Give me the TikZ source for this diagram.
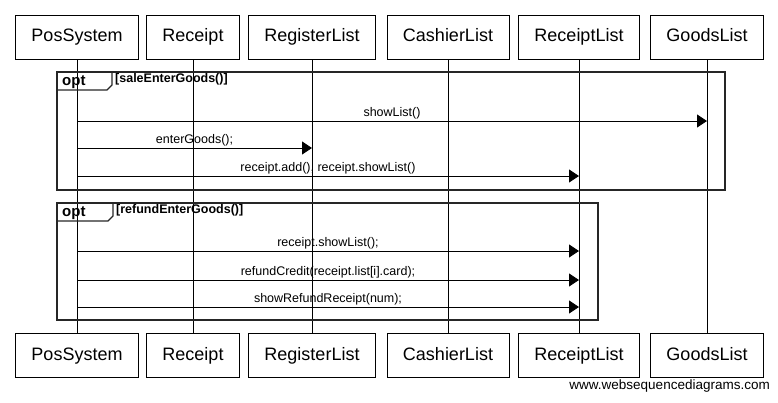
\documentclass[tikz,border=0pt]{standalone}
\usepackage{fontspec}
\setmainfont{Liberation Sans}
\usetikzlibrary{arrows.meta}
\usetikzlibrary{positioning}

\begin{document}
\begin{tikzpicture}[x=1pt,y=1pt,
  actor/.style={draw,line width=0.8pt,minimum height=44pt,text height=13pt,text depth=4pt,inner xsep=16pt,font=\fontsize{18}{20}\selectfont},
  lifeline/.style={line width=0.8pt},
  msg/.style={line width=0.8pt,-{Triangle[length=10pt,width=13pt]}},
  msglabel/.style={font=\fontsize{12.5}{13}\selectfont,inner sep=1.5pt},
  frame/.style={line width=1.6pt,black!85},
  optlabel/.style={font=\bfseries\fontsize{15}{16}\selectfont,inner sep=0pt},
  guard/.style={font=\bfseries\fontsize{12.5}{13}\selectfont,inner sep=0pt}]
\useasboundingbox (0,0) rectangle (778,-402);

% participants, top and bottom
\foreach \name/\x in {PosSystem/77,Receipt/193,RegisterList/312,CashierList/448,ReceiptList/579,GoodsList/707}
{
  \node[actor] (\name) at (\x,-37) {\name};
  \node[actor] (\name-b) at (\x,-355.5) {\name};
  \draw[lifeline] (\name.south) -- (\name-b.north);
}

% first opt frame
\draw[frame] (57,-72) rectangle (725,-190);
\draw[frame,line width=1.2pt] (57,-90) -- (107,-90) -- (112,-85) -- (112,-72);
\node[optlabel,anchor=west] (opt1) at (62,-82) {opt};
\node[guard,anchor=north west] (guard1) at (115,-73.5) {[saleEnterGoods()]};

\draw[msg] (PosSystem |- 0,-121) -- node[above,msglabel] {showList()} (GoodsList |- 0,-121);
\draw[msg] (PosSystem |- 0,-148) -- node[above,msglabel] {enterGoods();} (RegisterList |- 0,-148);
\draw[msg] (PosSystem |- 0,-176) -- node[above,msglabel] {receipt.add(), receipt.showList()} (ReceiptList |- 0,-176);

% second opt frame
\draw[frame] (57,-203) rectangle (598,-320);
\draw[frame,line width=1.2pt] (57,-221) -- (108,-221) -- (113,-216) -- (113,-203);
\node[optlabel,anchor=west] (opt2) at (62,-213) {opt};
\node[guard,anchor=north west] (guard2) at (116,-204.5) {[refundEnterGoods()]};

\draw[msg] (PosSystem |- 0,-251) -- node[above,msglabel] {receipt.showList();} (ReceiptList |- 0,-251);
\draw[msg] (PosSystem |- 0,-280) -- node[above,msglabel] {refundCredit(receipt.list[i].card);} (ReceiptList |- 0,-280);
\draw[msg] (PosSystem |- 0,-307) -- node[above,msglabel] {showRefundReceipt(num);} (ReceiptList |- 0,-307);

\node[anchor=east,font=\fontsize{13.5}{14}\selectfont,inner sep=0pt] (footer) at (770,-386) {www.websequencediagrams.com};

\end{tikzpicture}
\end{document}
